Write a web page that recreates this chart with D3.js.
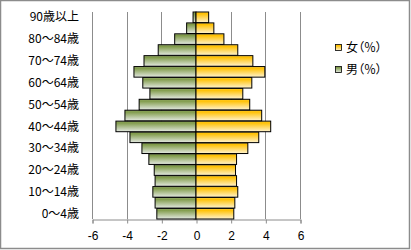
<!DOCTYPE html>
<html>
<head>
<meta charset="utf-8">
<script src="https://cdn.jsdelivr.net/npm/d3@7"></script>
<style>
  body { margin: 0; background: #fff; }
  svg { display: block; font-family: "Noto Sans CJK JP", sans-serif; }
  .tick text { fill: #000; }
  .legend text { font-feature-settings: "palt"; }
</style>
</head>
<body>
<svg id="chart" width="411" height="250"></svg>
<script>
  // age groups, bottom to top
  const ages = ['0～4歳', '5～9歳', '10～14歳', '15～19歳', '20～24歳', '25～29歳', '30～34歳',
    '35～39歳', '40～44歳', '45～49歳', '50～54歳', '55～59歳', '60～64歳', '65～69歳',
    '70～74歳', '75～79歳', '80～84歳', '85～89歳', '90歳以上'];
  // male shares (%), plotted to the left
  const male = [2.26, 2.36, 2.49, 2.36, 2.41, 2.72, 3.12, 3.81, 4.62, 4.10, 3.28, 2.66, 3.07,
    3.58, 3.00, 2.18, 1.23, 0.54, 0.17];
  // female shares (%)
  const female = [2.18, 2.24, 2.41, 2.34, 2.28, 2.34, 2.99, 3.62, 4.31, 3.79, 3.10, 2.70, 3.22,
    3.97, 3.28, 2.41, 1.61, 1.03, 0.73];
  const xTicks = [-6, -4, -2, 0, 2, 4, 6];
  const legendLabels = ['女（％）', '男（％）'];

  const svg = d3.select('#chart');
  const pLeft = 92, pRight = 300, pTop = 12, pBottom = 219;

  const x = d3.scaleLinear().domain([-6, 6]).range([pLeft, pRight]);
  const y = d3.scaleBand().domain(ages.slice().reverse()).range([pTop, pBottom]).paddingInner(0.03);

  const defs = svg.append('defs');
  const grad = (id, stops) => {
    const g = defs.append('linearGradient').attr('id', id)
      .attr('x1', 0).attr('y1', 0).attr('x2', 0).attr('y2', 1);
    stops.forEach(s => g.append('stop').attr('offset', s[0]).attr('stop-color', s[1]));
  };
  grad('gMale', [[0, '#a5b77f'], [0.15, '#7f9a48'], [1, '#e4e9e2']]);
  grad('gFemale', [[0, '#ffd75a'], [0.15, '#ffc000'], [1, '#fff3cf']]);

  // frame
  svg.append('rect')
    .attr('x', 0.5).attr('y', 0.5).attr('width', 409).attr('height', 248)
    .attr('fill', 'none').attr('stroke', '#8c8c8c').attr('stroke-width', 1.5);

  // gridlines
  svg.append('g').selectAll('line')
    .data(xTicks.filter(d => d !== 0))
    .join('line')
    .attr('x1', d => Math.round(x(d)) + 0.5).attr('x2', d => Math.round(x(d)) + 0.5)
    .attr('y1', pTop).attr('y2', pBottom)
    .attr('stroke', '#8c8c8c');

  // bottom axis
  const xAxis = svg.append('g')
    .attr('transform', `translate(0.5,${pBottom + 0.5})`)
    .call(d3.axisBottom(x).tickValues(xTicks).tickSize(4).tickPadding(8).tickFormat(d3.format('d')));
  xAxis.select('.domain').attr('stroke', '#8c8c8c');
  xAxis.selectAll('.tick line').attr('stroke', '#8c8c8c');
  xAxis.selectAll('.tick text').attr('font-size', 12).text(d => d < 0 ? '-' + (-d) : d);

  // category axis at zero
  const yAxis = svg.append('g')
    .attr('transform', `translate(${Math.round(x(0)) + 0.5},0)`)
    .call(d3.axisLeft(y).tickSize(0).tickFormat(''));
  yAxis.select('.domain').attr('stroke', '#8c8c8c');
  const step = y.step();
  yAxis.selectAll('.bnd').data(d3.range(ages.length + 1)).join('line')
    .attr('x1', -3).attr('x2', 0)
    .attr('y1', i => Math.round(pTop + i * step) + 0.5).attr('y2', i => Math.round(pTop + i * step) + 0.5)
    .attr('stroke', '#8c8c8c');

  // bars
  const bars = svg.append('g');
  bars.selectAll('.m').data(ages).join('rect')
    .attr('class', 'm')
    .attr('x', (d, i) => x(-male[i]))
    .attr('y', d => y(d))
    .attr('width', (d, i) => x(0) - x(-male[i]))
    .attr('height', y.bandwidth())
    .attr('fill', 'url(#gMale)').attr('stroke', '#000').attr('stroke-width', 1);
  bars.selectAll('.f').data(ages).join('rect')
    .attr('class', 'f')
    .attr('x', x(0))
    .attr('y', d => y(d))
    .attr('width', (d, i) => x(female[i]) - x(0))
    .attr('height', y.bandwidth())
    .attr('fill', 'url(#gFemale)').attr('stroke', '#000').attr('stroke-width', 1);

  // category labels, every other group
  svg.append('g').selectAll('text')
    .data(ages.filter((d, i) => i % 2 === 0))
    .join('text')
    .attr('x', 79)
    .attr('y', d => y(d) + y.bandwidth() / 2)
    .attr('dy', '0.35em')
    .attr('text-anchor', 'end')
    .attr('font-size', 12)
    .text(d => d);

  // legend
  const legend = svg.append('g').attr('class', 'legend').attr('transform', 'translate(335,44)');
  const swatch = ['url(#gFemale)', 'url(#gMale)'];
  legendLabels.forEach((label, i) => {
    const g = legend.append('g').attr('transform', `translate(0,${i * 22})`);
    g.append('rect').attr('x', 0.5).attr('y', 0.5).attr('width', 6).attr('height', 6)
      .attr('fill', swatch[i]).attr('stroke', '#000').attr('stroke-width', 0.8);
    g.append('text').attr('x', 11).attr('y', 4).attr('dy', '0.35em')
      .attr('font-size', 12).text(label);
  });
</script>
</body>
</html>
